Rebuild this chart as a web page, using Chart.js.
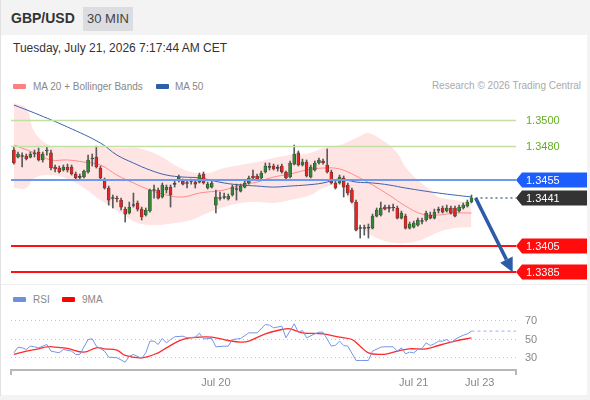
<!DOCTYPE html>
<html>
<head>
<meta charset="utf-8">
<script src="https://cdn.jsdelivr.net/npm/chart.js@4.4.1/dist/chart.umd.min.js"></script>
<style>
  body { margin: 0; width: 590px; height: 400px; background: #f3f3f3; position: relative; overflow: hidden;
         font-family: "Liberation Sans", Arial, sans-serif; }
  .abs { position: absolute; }
  #panel { left: 1px; top: 35px; width: 586px; height: 360px; background: #fff; }
  #edge { left: 0; top: 0; width: 1px; height: 396px; background: #e2e2e2; }
  #pair { left: 11px; top: 10px; font-size: 14px; font-weight: bold; color: #333; }
  #tf { left: 83px; top: 7px; width: 50px; height: 24px; line-height: 24px; text-align: center;
        background: #dcdde1; color: #444; font-size: 13px; }
  #stamp { left: 13px; top: 41px; font-size: 12px; color: #333; }
  .leg { font-size: 10px; color: #888; }
  .sw { width: 13px; height: 5px; border-radius: 1px; }
  #credit { right: 9px; top: 80px; font-size: 10px; color: #aaa; }
  #sep { left: 1px; top: 284px; width: 586px; height: 1px; background: #eeeeee; }
  canvas { position: absolute; left: 0; }
</style>
</head>
<body>
<div id="edge" class="abs"></div>
<div id="panel" class="abs"></div>
<div id="pair" class="abs">GBP/USD</div>
<div id="tf" class="abs">30 MIN</div>
<div id="stamp" class="abs">Tuesday, July 21, 2026 7:17:44 AM CET</div>

<div class="abs sw" style="left:13px;top:84px;background:#ff8080"></div>
<div class="abs leg" style="left:33px;top:81px">MA 20 + Bollinger Bands</div>
<div class="abs sw" style="left:156px;top:84px;background:#2f5ea8"></div>
<div class="abs leg" style="left:175px;top:81px">MA 50</div>
<div id="credit" class="abs">Research © 2026 Trading Central</div>
<div id="sep" class="abs"></div>

<div class="abs sw" style="left:13px;top:297px;background:#6f8fe0"></div>
<div class="abs leg" style="left:33px;top:294px">RSI</div>
<div class="abs sw" style="left:62px;top:297px;background:#ff0000"></div>
<div class="abs leg" style="left:82px;top:294px">9MA</div>

<canvas id="price" width="590" height="190" style="top:95px"></canvas>
<canvas id="rsi" width="590" height="110" style="top:290px"></canvas>

<script>
/* ---------- candles (30 min) ---------- */
var openP = [
  1.34773,1.34720,1.34728,1.34728,1.34720,1.34751,1.34758,1.34698,1.34766,1.34751,
  1.34645,1.34637,1.34622,1.34645,1.34645,1.34592,1.34569,1.34569,1.34607,1.34705,
  1.34720,1.34637,1.34546,1.34486,1.34410,1.34410,1.34395,1.34327,1.34297,1.34357,
  1.34373,1.34327,1.34282,1.34312,1.34471,1.34471,1.34418,1.34471,1.34493,1.34516,
  1.34546,1.34539,1.34524,1.34539,1.34531,1.34531,1.34592,1.34486,1.34493,1.34357,
  1.34410,1.34418,1.34403,1.34433,1.34478,1.34463,1.34493,1.34524,1.34577,1.34577,
  1.34562,1.34607,1.34645,1.34652,1.34637,1.34652,1.34607,1.34569,1.34667,1.34751,
  1.34660,1.34682,1.34569,1.34622,1.34675,1.34690,1.34660,1.34607,1.34524,1.34524,
  1.34562,1.34509,1.34471,1.34380,1.34183,1.34183,1.34183,1.34183,1.34274,1.34282,
  1.34342,1.34335,1.34335,1.34335,1.34259,1.34274,1.34183,1.34191,1.34206,1.34236,
  1.34244,1.34282,1.34259,1.34320,1.34335,1.34312,1.34335,1.34335,1.34312,1.34335,
  1.34350,1.34380
];
var highP = [
  1.34796,1.34758,1.34751,1.34743,1.34758,1.34773,1.34788,1.34758,1.34796,1.34773,
  1.34660,1.34652,1.34660,1.34667,1.34660,1.34607,1.34592,1.34622,1.34735,1.34743,
  1.34803,1.34652,1.34562,1.34501,1.34433,1.34425,1.34410,1.34342,1.34380,1.34448,
  1.34388,1.34342,1.34335,1.34478,1.34509,1.34486,1.34524,1.34509,1.34509,1.34539,
  1.34584,1.34554,1.34546,1.34554,1.34546,1.34599,1.34607,1.34531,1.34539,1.34471,
  1.34456,1.34448,1.34441,1.34509,1.34516,1.34516,1.34539,1.34577,1.34622,1.34592,
  1.34614,1.34675,1.34675,1.34667,1.34660,1.34667,1.34614,1.34690,1.34811,1.34766,
  1.34705,1.34698,1.34660,1.34690,1.34713,1.34705,1.34781,1.34622,1.34539,1.34584,
  1.34577,1.34524,1.34486,1.34395,1.34206,1.34206,1.34214,1.34289,1.34335,1.34380,
  1.34357,1.34357,1.34365,1.34350,1.34312,1.34289,1.34229,1.34236,1.34259,1.34259,
  1.34312,1.34304,1.34327,1.34342,1.34350,1.34357,1.34350,1.34350,1.34357,1.34373,
  1.34395,1.34433
];
var lowP = [
  1.34667,1.34713,1.34645,1.34698,1.34713,1.34720,1.34690,1.34682,1.34735,1.34622,
  1.34607,1.34599,1.34614,1.34607,1.34584,1.34554,1.34546,1.34562,1.34599,1.34652,
  1.34637,1.34554,1.34478,1.34357,1.34335,1.34380,1.34320,1.34229,1.34289,1.34342,
  1.34312,1.34244,1.34274,1.34304,1.34410,1.34403,1.34410,1.34448,1.34342,1.34493,
  1.34531,1.34509,1.34486,1.34516,1.34486,1.34524,1.34516,1.34478,1.34486,1.34297,
  1.34395,1.34403,1.34395,1.34425,1.34395,1.34456,1.34486,1.34516,1.34554,1.34546,
  1.34554,1.34599,1.34622,1.34622,1.34614,1.34599,1.34546,1.34562,1.34660,1.34652,
  1.34652,1.34569,1.34562,1.34614,1.34667,1.34667,1.34599,1.34516,1.34478,1.34516,
  1.34418,1.34433,1.34373,1.34161,1.34108,1.34130,1.34108,1.34176,1.34267,1.34274,
  1.34320,1.34304,1.34312,1.34252,1.34252,1.34176,1.34176,1.34183,1.34198,1.34214,
  1.34236,1.34252,1.34252,1.34297,1.34297,1.34304,1.34289,1.34267,1.34304,1.34327,
  1.34342,1.34373
];
var closeP = [
  1.34675,1.34743,1.34724,1.34705,1.34743,1.34743,1.34698,1.34743,1.34773,1.34637,
  1.34630,1.34607,1.34645,1.34622,1.34592,1.34562,1.34566,1.34614,1.34698,1.34713,
  1.34645,1.34562,1.34486,1.34395,1.34407,1.34403,1.34342,1.34289,1.34342,1.34354,
  1.34327,1.34267,1.34320,1.34471,1.34467,1.34410,1.34509,1.34493,1.34433,1.34513,
  1.34569,1.34516,1.34520,1.34535,1.34516,1.34584,1.34524,1.34516,1.34524,1.34418,
  1.34407,1.34414,1.34425,1.34493,1.34475,1.34501,1.34524,1.34562,1.34562,1.34554,
  1.34599,1.34652,1.34642,1.34630,1.34634,1.34607,1.34562,1.34675,1.34743,1.34660,
  1.34682,1.34577,1.34645,1.34675,1.34698,1.34675,1.34607,1.34524,1.34486,1.34569,
  1.34493,1.34448,1.34380,1.34168,1.34180,1.34180,1.34186,1.34274,1.34320,1.34335,
  1.34327,1.34332,1.34338,1.34259,1.34297,1.34183,1.34214,1.34221,1.34244,1.34233,
  1.34297,1.34259,1.34304,1.34317,1.34304,1.34335,1.34297,1.34274,1.34342,1.34357,
  1.34380,1.34410
];

/* ---------- indicators, read at sample candles ---------- */
var bandIdx = [0,3,5,9,13,17,21,26,30,35,39,43,47,51,55,59,63,67,72,75,79,81,83,84,86,90,93,95,98,101,103,107,111];
var bandUp = [1.35129,1.35091,1.34909,1.34803,1.34796,1.34796,1.34796,1.34788,1.34788,1.34735,1.34660,1.34607,1.34599,
  1.34637,1.34660,1.34682,1.34713,1.34735,1.34751,1.34788,1.34811,1.34834,1.34864,1.34879,1.34902,1.34834,1.34751,
  1.34645,1.34546,1.34471,1.34418,1.34395,1.34373];
var bandLow = [1.34486,1.34486,1.34562,1.34584,1.34554,1.34486,1.34395,1.34297,1.34221,1.34206,1.34221,1.34244,1.34297,
  1.34342,1.34373,1.34380,1.34373,1.34395,1.34433,1.34486,1.34509,1.34410,1.34282,1.34229,1.34145,1.34085,1.34070,
  1.34070,1.34085,1.34123,1.34153,1.34183,1.34191];
var ma20Idx = [0,5,9,13,17,21,25,29,33,37,41,45,51,55,59,63,67,71,75,79,83,87,91,95,99,103,107,111];
var ma20 = [1.34811,1.34751,1.34698,1.34698,1.34682,1.34660,1.34584,1.34524,1.34471,1.34433,1.34418,1.34448,1.34471,
  1.34509,1.34531,1.34569,1.34592,1.34622,1.34637,1.34630,1.34577,1.34509,1.34433,1.34350,1.34289,1.34282,1.34297,1.34297];
var ma50Idx = [0,5,13,21,25,29,33,37,41,45,51,55,59,63,67,71,75,79,83,87,91,95,103,111];
var ma50 = [1.35113,1.35053,1.34947,1.34826,1.34735,1.34675,1.34622,1.34584,1.34569,1.34562,1.34524,1.34509,1.34501,
  1.34493,1.34501,1.34509,1.34524,1.34554,1.34531,1.34524,1.34509,1.34486,1.34448,1.34418];

var rsiIdx = [0,1,2,3,4,5,6,8,9,11,12,14,15,16,18,19,20,22,23,25,27,28,29,31,32,33,34,35,36,37,38,39,41,42,44,45,46,48,49,51,
  52,53,55,57,58,59,61,62,63,65,66,68,69,70,71,73,74,75,77,78,79,80,81,83,84,86,87,89,90,92,93,94,95,96,97,98,99,100,101,102,
  103,104,105,106,107,108,109,110,111];
var rsiVal = [35.6,41.7,41.0,39.2,42.8,42.1,41.0,44.6,37.4,35.6,39.2,37.4,33.8,33.8,50.0,50.7,42.8,37.4,30.9,30.2,
  25.5,31.9,33.8,29.5,35.6,48.2,48.2,44.6,51.1,46.4,50.0,52.9,53.6,51.8,52.5,56.8,50.7,51.1,42.1,42.8,
  42.8,50.0,51.1,57.2,57.2,57.2,66.2,65.5,62.6,64.4,51.8,67.0,58.0,59.7,51.8,56.1,57.9,57.9,42.8,43.8,
  48.2,43.5,42.8,27.3,27.3,27.3,37.4,41.7,42.1,42.1,37.4,41.0,34.5,36.3,35.6,39.2,40.3,46.4,43.5,45.3,
  48.2,48.2,50.0,46.4,50.0,52.5,54.6,56.1,59.0];
var ma9Idx = [0,3,6,8,10,13,17,20,22,25,27,31,35,37,41,45,48,52,55,57,61,65,67,70,75,79,82,84,86,89,91,94,96,100,103,107,111];
var ma9Val = [33.8,37.4,39.9,42.1,41.7,40.3,36.3,41.0,39.9,38.5,32.7,30.2,35.6,41.0,50.0,52.5,52.5,48.9,47.1,48.2,
  56.1,60.8,61.5,57.2,56.1,52.5,50.0,42.8,35.6,33.8,34.9,38.5,39.9,39.9,43.5,48.2,51.8];

/* ---------- key levels + axis ---------- */
var resistLevels = [1.3500, 1.3480];
var pivotLevel = 1.3455;
var lastPrice = 1.3441;
var supportLevels = [1.3405, 1.3385];
var arrowFrom = [112, 1.3441];
var arrowTo = [121, 1.3385];
var dayTicks = [49, 97, 113];
var dayLabels = ["Jul 20", "Jul 21", "Jul 23"];
var rsiTicks = [30, 50, 70];

var xMin = -0.7, xMax = 121.8;
var FONT = '"Liberation Sans", Arial, sans-serif';

function pts(ix, vals) { return ix.map((x, k) => ({ x: x, y: vals[k] })); }

var bodyColors = openP.map((o, i) => {
  if (Math.abs(closeP[i] - o) < 0.00005) return "#4a4a4a";
  return closeP[i] > o ? "#2f8a2f" : "#e8231f";
});

/* ---------- price panel: levels, tags, arrow ---------- */
function tag(ctx, a, py, bg, txt) {
  ctx.fillStyle = bg;
  ctx.beginPath();
  ctx.moveTo(a.right, py);
  ctx.lineTo(a.right + 6, py - 7.5);
  ctx.lineTo(587, py - 7.5);
  ctx.lineTo(587, py + 7.5);
  ctx.lineTo(a.right + 6, py + 7.5);
  ctx.closePath();
  ctx.fill();
  ctx.fillStyle = "#fff";
  ctx.fillText(txt, a.right + 10, py + 0.5);
}
function hline(ctx, x0, x1, py, col, w) {
  ctx.strokeStyle = col;
  ctx.lineWidth = w;
  ctx.beginPath();
  ctx.moveTo(x0, py);
  ctx.lineTo(x1, py);
  ctx.stroke();
}

var levelPlugin = {
  id: "levels",
  afterDatasetsDraw(chart) {
    var ctx = chart.ctx, a = chart.chartArea, x = chart.scales.x, y = chart.scales.y;
    ctx.save();
    ctx.font = "11px " + FONT;
    ctx.textBaseline = "middle";

    resistLevels.forEach(v => {
      var py = Math.round(y.getPixelForValue(v)) + 0.5;
      hline(ctx, a.left, a.right, py, "#c3e0a4", 1.5);
      ctx.fillStyle = "#64ad22";
      ctx.fillText(v.toFixed(4), a.right + 10, py);
    });

    var pp = Math.round(y.getPixelForValue(pivotLevel));
    hline(ctx, a.left, a.right, pp, "#6f98ef", 2);
    tag(ctx, a, pp, "#1d5dfb", pivotLevel.toFixed(4));

    supportLevels.forEach(v => {
      var py = Math.round(y.getPixelForValue(v));
      hline(ctx, a.left, a.right, py, "#ff1111", 2);
      tag(ctx, a, py, "#ff0c0c", v.toFixed(4));
    });

    // last price: dotted from last candle
    var lp = Math.round(y.getPixelForValue(lastPrice));
    ctx.setLineDash([2, 3]);
    hline(ctx, x.getPixelForValue(closeP.length - 1) + 4, a.right, lp, "#8594ae", 2);
    ctx.setLineDash([]);
    tag(ctx, a, lp, "#333333", lastPrice.toFixed(4));

    // forecast arrow
    var x0 = x.getPixelForValue(arrowFrom[0]), y0 = y.getPixelForValue(arrowFrom[1]);
    var x1 = x.getPixelForValue(arrowTo[0]), y1 = y.getPixelForValue(arrowTo[1]);
    var ang = Math.atan2(y1 - y0, x1 - x0), hl = 14, hw = 7;
    var bx = x1 - hl * Math.cos(ang), by = y1 - hl * Math.sin(ang);
    ctx.strokeStyle = "#2c5ca6";
    ctx.fillStyle = "#2c5ca6";
    ctx.lineWidth = 3.5;
    ctx.beginPath();
    ctx.moveTo(x0, y0);
    ctx.lineTo(bx, by);
    ctx.stroke();
    ctx.beginPath();
    ctx.moveTo(x1, y1);
    ctx.lineTo(bx + hw * Math.sin(ang), by - hw * Math.cos(ang));
    ctx.lineTo(bx - hw * Math.sin(ang), by + hw * Math.cos(ang));
    ctx.closePath();
    ctx.fill();
    ctx.restore();
  }
};

new Chart(document.getElementById("price"), {
  type: "bar",
  data: {
    datasets: [
      { type: "bar", label: "body", data: openP.map((o, i) => ({ x: i, y: [o, closeP[i]] })),
        backgroundColor: bodyColors, borderColor: "#3a3a3a", borderWidth: 0.6, borderSkipped: false,
        barThickness: 3, minBarLength: 1, grouped: false, order: 1 },
      { type: "bar", label: "wick", data: lowP.map((l, i) => ({ x: i, y: [l, highP[i]] })),
        backgroundColor: "#5a5a5a", barThickness: 1, grouped: false, order: 2 },
      { type: "line", label: "MA 50", data: pts(ma50Idx, ma50), borderColor: "#3b63ad", borderWidth: 1,
        pointRadius: 0, tension: 0.4, order: 3 },
      { type: "line", label: "MA 20", data: pts(ma20Idx, ma20), borderColor: "#ff8a8a", borderWidth: 1,
        pointRadius: 0, tension: 0.4, order: 3 },
      { type: "line", label: "BB up", data: pts(bandIdx, bandUp), borderWidth: 0, pointRadius: 0,
        tension: 0.4, backgroundColor: "rgba(255,170,170,0.32)", fill: "+1", order: 5 },
      { type: "line", label: "BB low", data: pts(bandIdx, bandLow), borderWidth: 0, pointRadius: 0,
        tension: 0.4, fill: false, order: 5 }
    ]
  },
  options: {
    responsive: false,
    animation: false,
    layout: { padding: { left: 11, right: 74, top: 0, bottom: 0 } },
    plugins: { legend: { display: false }, tooltip: { enabled: false } },
    scales: {
      x: { type: "linear", min: xMin, max: xMax, offset: false, display: false },
      y: { type: "linear", min: 1.33753, max: 1.35189, display: false }
    }
  },
  plugins: [levelPlugin]
});

/* ---------- RSI panel ---------- */
var edgeTicks = {
  id: "edgeTicks",
  afterDraw(chart) {
    var ctx = chart.ctx, a = chart.chartArea;
    ctx.save();
    ctx.strokeStyle = "#b8b8b8";
    ctx.lineWidth = 2;
    [a.left, a.right].forEach(px => {
      ctx.beginPath();
      ctx.moveTo(px, a.bottom);
      ctx.lineTo(px, a.bottom + 5);
      ctx.stroke();
    });
    ctx.restore();
  }
};

new Chart(document.getElementById("rsi"), {
  type: "line",
  data: {
    datasets: [
      { label: "RSI", data: pts(rsiIdx, rsiVal), borderColor: "#7596e6", borderWidth: 1, pointRadius: 0, tension: 0 },
      { label: "RSI ext", data: [{ x: rsiIdx[rsiIdx.length - 1], y: rsiVal[rsiVal.length - 1] }, { x: xMax, y: rsiVal[rsiVal.length - 1] }],
        borderColor: "#b9caf3", borderWidth: 1.5, borderDash: [3, 3], pointRadius: 0 },
      { label: "9MA", data: pts(ma9Idx, ma9Val), borderColor: "#ff2a2a", borderWidth: 1.3, pointRadius: 0, tension: 0.4 }
    ]
  },
  options: {
    responsive: false,
    animation: false,
    layout: { padding: { left: 11, right: 0, top: 10, bottom: 0 } },
    plugins: { legend: { display: false }, tooltip: { enabled: false } },
    scales: {
      x: {
        type: "linear", min: xMin, max: xMax, offset: false,
        grid: { display: false, drawTicks: false },
        border: { color: "#b8b8b8", width: 2 },
        afterBuildTicks: s => { s.ticks = dayTicks.map(v => ({ value: v })); },
        afterFit: s => { s.height = 30; },
        ticks: { color: "#888", font: { size: 11, family: FONT }, padding: 6, maxRotation: 0, autoSkip: false,
                 callback: v => dayLabels[dayTicks.indexOf(v)] }
      },
      y: {
        position: "right", min: 17.0, max: 86.65,
        afterBuildTicks: s => { s.ticks = rsiTicks.map(v => ({ value: v })); },
        afterFit: s => { s.width = 74; },
        grid: { color: "#c4c4c4", drawTicks: false, lineWidth: 1 },
        border: { display: false, dash: [1, 3] },
        ticks: { color: "#888", font: { size: 11, family: FONT }, padding: 9 }
      }
    }
  },
  plugins: [edgeTicks]
});
</script>
</body>
</html>
